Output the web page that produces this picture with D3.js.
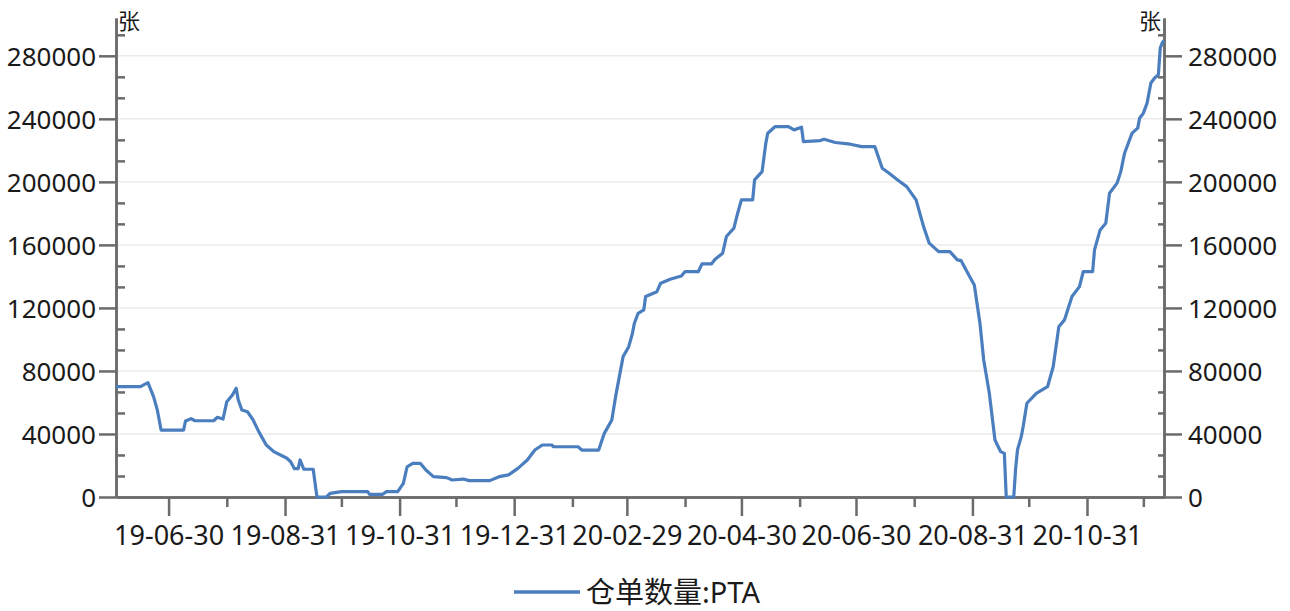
<!DOCTYPE html>
<html>
<head>
<meta charset="utf-8">
<script src="https://cdn.jsdelivr.net/npm/d3@7"></script>
<style>
    body { margin: 0; background: #fff; }
    text { font-family: "Noto Sans", "Noto Sans CJK SC", sans-serif; fill: #1a1a1a; }
</style>
</head>
<body>
<div id="chart"></div>
<script>
// ---- Data ----
const dates = [
    "2019-06-02", "2019-06-15", "2019-06-19", "2019-06-22", "2019-06-24", "2019-06-26",
    "2019-07-08", "2019-07-09", "2019-07-12", "2019-07-14", "2019-07-24", "2019-07-26",
    "2019-07-29", "2019-07-31", "2019-08-03", "2019-08-05", "2019-08-06", "2019-08-08",
    "2019-08-11", "2019-08-14", "2019-08-17", "2019-08-21", "2019-08-25", "2019-09-01",
    "2019-09-03", "2019-09-05", "2019-09-07", "2019-09-08", "2019-09-10", "2019-09-15",
    "2019-09-17", "2019-09-22", "2019-09-24", "2019-09-30", "2019-10-14", "2019-10-15",
    "2019-10-22", "2019-10-24", "2019-10-30", "2019-11-02", "2019-11-04", "2019-11-07",
    "2019-11-11", "2019-11-14", "2019-11-18", "2019-11-25", "2019-11-28", "2019-12-04",
    "2019-12-07", "2019-12-18", "2019-12-23", "2019-12-28", "2020-01-02", "2020-01-07",
    "2020-01-11", "2020-01-15", "2020-01-20", "2020-01-21", "2020-02-03", "2020-02-05",
    "2020-02-14", "2020-02-17", "2020-02-21", "2020-02-23", "2020-02-25", "2020-02-27",
    "2020-03-01", "2020-03-03", "2020-03-04", "2020-03-06", "2020-03-09", "2020-03-10",
    "2020-03-16", "2020-03-18", "2020-03-23", "2020-03-29", "2020-03-31", "2020-04-07",
    "2020-04-09", "2020-04-14", "2020-04-16", "2020-04-20", "2020-04-22", "2020-04-26",
    "2020-04-28", "2020-04-30", "2020-05-06", "2020-05-07", "2020-05-11", "2020-05-13",
    "2020-05-14", "2020-05-18", "2020-05-25", "2020-05-28", "2020-06-01", "2020-06-02",
    "2020-06-11", "2020-06-13", "2020-06-19", "2020-06-27", "2020-07-03", "2020-07-10",
    "2020-07-14", "2020-07-18", "2020-07-22", "2020-07-27", "2020-08-01", "2020-08-05",
    "2020-08-08", "2020-08-13", "2020-08-19", "2020-08-23", "2020-08-25", "2020-08-29",
    "2020-09-01", "2020-09-04", "2020-09-06", "2020-09-09", "2020-09-12", "2020-09-15",
    "2020-09-17", "2020-09-18", "2020-09-22", "2020-09-23", "2020-09-24", "2020-09-26",
    "2020-09-27", "2020-09-29", "2020-10-04", "2020-10-10", "2020-10-13", "2020-10-16",
    "2020-10-19", "2020-10-23", "2020-10-27", "2020-10-29", "2020-11-03", "2020-11-04",
    "2020-11-07", "2020-11-10", "2020-11-12", "2020-11-16", "2020-11-18", "2020-11-20",
    "2020-11-24", "2020-11-27", "2020-11-28", "2020-11-30", "2020-12-02", "2020-12-04",
    "2020-12-06", "2020-12-08", "2020-12-09", "2020-12-10", "2020-12-11"
];

const values = [
    70000, 70000, 72600, 63700, 55200, 42500,
    42500, 48250, 49700, 48400, 48400, 50600,
    49500, 60500, 64700, 69000, 62000, 55200,
    54100, 48900, 41500, 33000, 28800, 24600,
    22400, 18000, 18000, 23500, 17600, 17600,
    0, 0, 2300, 3400, 3400, 1700,
    1700, 3400, 3400, 8700, 19200, 21400,
    21400, 17100, 12900, 12300, 10800, 11400,
    10400, 10400, 12900, 14000, 18200, 23500,
    29800, 33000, 33000, 31900, 31900, 29800,
    29800, 40400, 48900, 63700, 76400, 89100,
    95400, 103900, 110300, 116600, 118700, 127200,
    130300, 135700, 138200, 140300, 143000, 143000,
    147900, 147900, 150900, 154700, 165300, 170600,
    180100, 188600, 188600, 201300, 206500, 224600,
    230900, 235100, 235100, 233000, 234700, 225600,
    226200, 227100, 225000, 223900, 222400, 222400,
    208700, 205100, 201300, 197000, 188600, 171600,
    161100, 155700, 155700, 150500, 150000, 141000,
    134600, 110300, 87000, 65800, 36200, 28800,
    27700, 0, 0, 18000, 30000, 38300,
    44600, 59500, 65800, 70000, 82700, 108100,
    112400, 127200, 133500, 143000, 143000, 156800,
    169500, 173700, 192800, 199200, 206500, 218200,
    230900, 234100, 240400, 243600, 250000, 262700,
    265900, 268000, 284900, 288100, 289700
];

const majorTickDates = ["2019-06-30", "2019-08-31", "2019-10-31", "2019-12-31", "2020-02-29",
    "2020-04-30", "2020-06-30", "2020-08-31", "2020-10-31"];
const minorTickDates = ["2019-07-31", "2019-09-30", "2019-11-30", "2020-01-31", "2020-03-31",
    "2020-05-31", "2020-07-31", "2020-09-30", "2020-11-30"];
const yTicks = [0, 40000, 80000, 120000, 160000, 200000, 240000, 280000];
const yMax = 304000;
const unitLabel = "张";
const seriesName = "仓单数量:PTA";

// ---- Layout ----
const width = 1290, height = 611;
const margin = { top: 18, right: 126, bottom: 114, left: 116 };
const innerW = width - margin.left - margin.right;
const innerH = height - margin.top - margin.bottom;

const parse = d3.timeParse("%Y-%m-%d");
const data = dates.map((d, i) => ({ date: parse(d), value: values[i] }));

const svg = d3.select("#chart").append("svg")
    .attr("width", width)
    .attr("height", height);

svg.append("rect").attr("width", width).attr("height", height).attr("fill", "#fff");

const g = svg.append("g")
    .attr("transform", `translate(${margin.left}, ${margin.top})`);

// ---- Scales ----
const x = d3.scaleTime()
    .domain(d3.extent(data, d => d.date))
    .range([0, innerW]);

const y = d3.scaleLinear()
    .domain([0, yMax])
    .range([innerH, 0]);

const yMinor = d3.range(0, yMax, 40000 / 3).filter(v => v % 40000 > 1 && v % 40000 < 39999);

// ---- Grid ----
g.append("g")
    .selectAll("line")
    .data(yTicks.filter(v => v > 0))
    .enter()
    .append("line")
    .attr("x1", 0)
    .attr("x2", innerW)
    .attr("y1", d => y(d))
    .attr("y2", d => y(d))
    .attr("stroke", "#ebebeb")
    .attr("stroke-width", 1.5);

// ---- Axes ----
const axisColor = "#6b6b6b";

function styleAxis(sel, size) {
    sel.select(".domain").attr("stroke", axisColor).attr("stroke-width", 2.5);
    sel.selectAll(".tick line").attr("stroke", axisColor).attr("stroke-width", 2.5);
    sel.selectAll("text").style("font-size", (size || 26) + "px").attr("fill", "#1a1a1a");
}

// left
g.append("g")
    .call(d3.axisLeft(y).tickValues(yMinor).tickSize(-9).tickSizeOuter(0).tickFormat(""))
    .call(styleAxis);
g.append("g")
    .call(d3.axisLeft(y).tickValues(yTicks).tickSize(17).tickPadding(3).tickSizeOuter(0).tickFormat(d3.format("d")))
    .call(styleAxis)
    .call(a => a.selectAll("text").attr("dy", "0.36em"));

// right
g.append("g")
    .attr("transform", `translate(${innerW}, 0)`)
    .call(d3.axisRight(y).tickValues(yMinor).tickSize(-6).tickSizeOuter(0).tickFormat(""))
    .call(styleAxis);
g.append("g")
    .attr("transform", `translate(${innerW}, 0)`)
    .call(d3.axisRight(y).tickValues(yTicks).tickSize(18).tickPadding(6).tickSizeOuter(0).tickFormat(d3.format("d")))
    .call(styleAxis)
    .call(a => a.selectAll("text").attr("dy", "0.36em"));

// bottom
g.append("g")
    .attr("transform", `translate(0, ${innerH})`)
    .call(d3.axisBottom(x).tickValues(minorTickDates.map(parse)).tickSize(10).tickSizeOuter(0).tickFormat(""))
    .call(styleAxis);
g.append("g")
    .attr("transform", `translate(0, ${innerH})`)
    .call(d3.axisBottom(x).tickValues(majorTickDates.map(parse)).tickSize(19).tickPadding(4).tickSizeOuter(0).tickFormat(d3.timeFormat("%y-%m-%d")))
    .call(a => styleAxis(a, 27))
    .call(a => a.selectAll("text").attr("dy", "0.92em"));

// unit labels
g.append("text")
    .attr("x", 2)
    .attr("y", 11)
    .style("font-size", "22px")
    .text(unitLabel);
g.append("text")
    .attr("x", innerW - 3)
    .attr("y", 11)
    .attr("text-anchor", "end")
    .style("font-size", "22px")
    .text(unitLabel);

// ---- Line ----
const line = d3.line()
    .x(d => x(d.date))
    .y(d => y(d.value));

g.append("path")
    .datum(data)
    .attr("fill", "none")
    .attr("stroke", "#4a7ebf")
    .attr("stroke-width", 3.2)
    .attr("stroke-linejoin", "round")
    .attr("d", line);

// ---- Legend ----
const legend = svg.append("g").attr("transform", "translate(514, 592)");
legend.append("line")
    .attr("x1", 0)
    .attr("x2", 66)
    .attr("stroke", "#4a7ebf")
    .attr("stroke-width", 3.5);
legend.append("text")
    .attr("x", 72)
    .attr("y", 11)
    .style("font-size", "29px")
    .text(seriesName);
</script>
</body>
</html>
